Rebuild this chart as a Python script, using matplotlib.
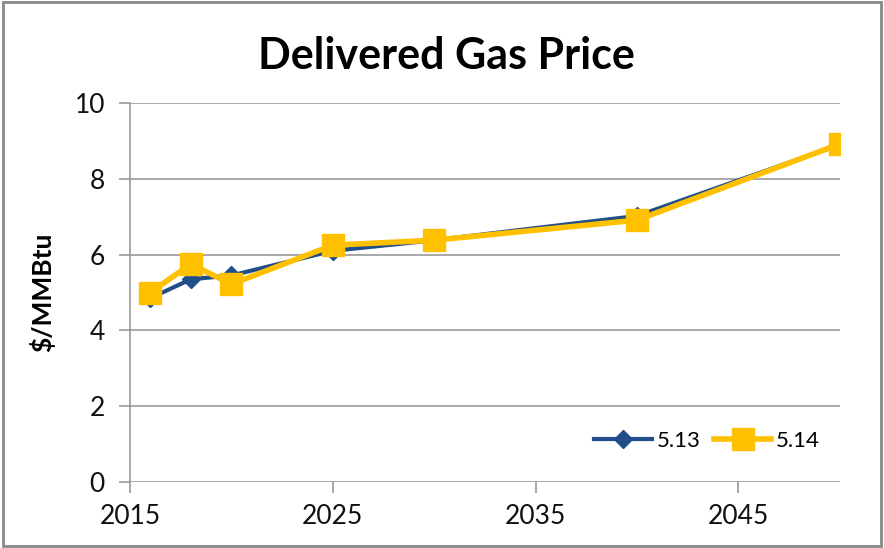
import matplotlib
matplotlib.use('Agg')
import matplotlib.pyplot as plt
from matplotlib.patches import Rectangle

plt.rcParams['font.family'] = ['Lato', 'DejaVu Sans']

# Data
years = [2016, 2018, 2020, 2025, 2030, 2040, 2050]
price_513 = [4.85, 5.35, 5.45, 6.1, 6.38, 7.02, 8.9]
price_514 = [5.0, 5.75, 5.22, 6.25, 6.38, 6.91, 8.92]
x_ticks = [2015, 2025, 2035, 2045]
y_ticks = [0, 2, 4, 6, 8, 10]

BLUE = '#1f4e89'
GOLD = '#ffc000'
GRID = '#999999'

fig = plt.figure(figsize=(8.84, 5.48), dpi=100)
ax = fig.add_axes([0.147, 0.1204, 0.803, 0.6916])

ax.plot(years, price_513, color=BLUE, lw=3, marker='D', markersize=9,
        label='5.13', zorder=3)
ax.plot(years, price_514, color=GOLD, lw=4, marker='s', markersize=16,
        label='5.14', zorder=4)

ax.set_xlim(2015, 2050)
ax.set_ylim(0, 10)
ax.set_xticks(x_ticks)
ax.set_yticks(y_ticks)
ax.yaxis.grid(True, color=GRID, lw=1.2)
ax.set_axisbelow(True)
for s in ['top', 'right', 'bottom']:
    ax.spines[s].set_visible(False)
ax.spines['left'].set_color(GRID)
ax.spines['left'].set_linewidth(1.2)
ax.tick_params(axis='both', labelsize=19, colors='#111111', color=GRID,
               width=1.2)
ax.tick_params(axis='x', length=8, pad=8)
ax.tick_params(axis='y', length=8, pad=10)

ax.set_ylabel('$/MMBtu', fontsize=19, fontweight='bold', labelpad=14)
fig.text(0.505, 0.898, 'Delivered Gas Price', ha='center', va='center',
         fontsize=31, fontweight='bold')

ax.legend(loc='lower right', bbox_to_anchor=(1.0, 0.03), frameon=False,
          ncol=2, fontsize=16, handlelength=2.6, columnspacing=0.6,
          handletextpad=0.2)

fig.patches.append(Rectangle((0.003, 0.003), 0.994, 0.994,
                             transform=fig.transFigure, fill=False,
                             edgecolor='#888888', lw=2))

fig.savefig('out.png', dpi=100)
